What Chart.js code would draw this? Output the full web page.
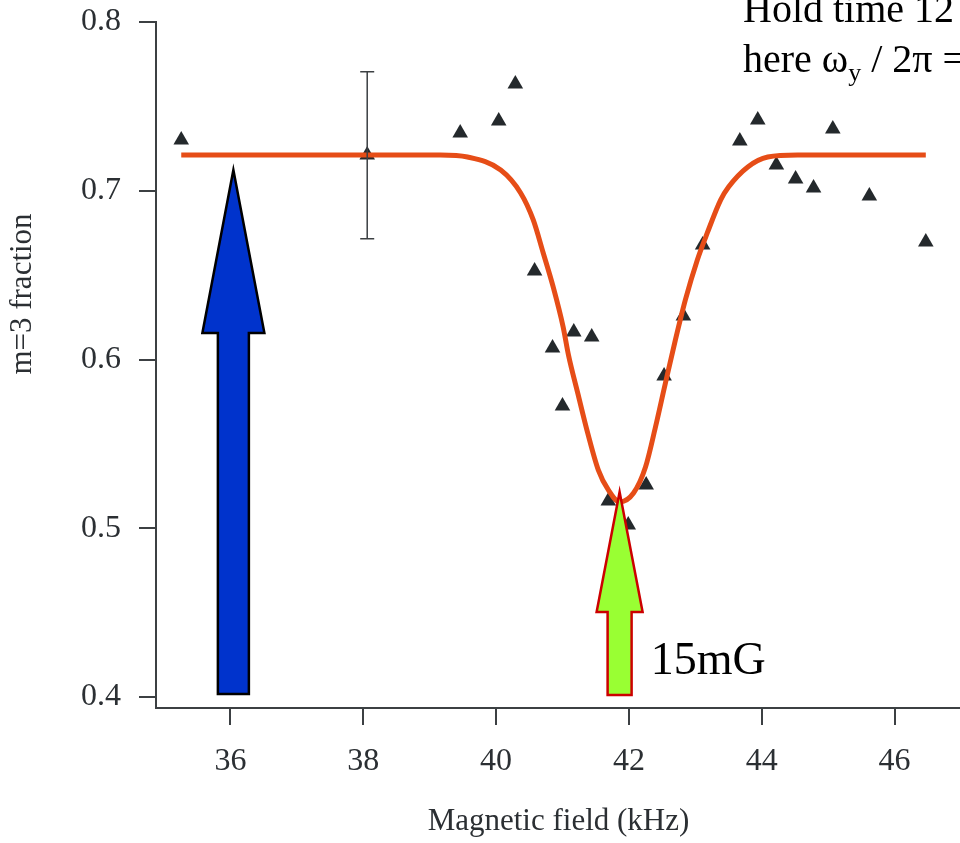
<!DOCTYPE html>
<html lang="en">
  <head>
    <meta charset="UTF-8" />
    <title>m=3 fraction vs magnetic field</title>
    <script src="https://cdn.jsdelivr.net/npm/chart.js"></script>
    <style>
      html, body { margin: 0; padding: 0; background: #fff; overflow: hidden; }
      /* the original figure is cropped on the right, so the canvas runs a bit past the window */
      #fieldChart { display: block; }
    </style>
  </head>
  <body>
    <canvas id="fieldChart" width="970" height="843"></canvas>

    <script>
      // measured points (triangles)
      const fieldKHz = [35.26, 38.06, 39.46, 40.04, 40.29, 40.58, 40.85, 41.0, 41.17, 41.44, 41.69, 41.99,
        42.26, 42.53, 42.82, 43.11, 43.67, 43.94, 44.22, 44.51, 44.78, 45.07, 45.62, 46.47];
      const m3Fraction = [0.7301, 0.7212, 0.7342, 0.7413, 0.7633, 0.6524, 0.6068, 0.5724, 0.6163, 0.6133, 0.5161, 0.5019,
        0.5256, 0.5902, 0.6258, 0.6679, 0.7295, 0.7419, 0.7153, 0.707, 0.7016, 0.7366, 0.6969, 0.6696];

      // one representative error bar
      const errorBarField = [38.06];
      const errorBarLow = [0.6715];
      const errorBarHigh = [0.7705];

      // fitted curve
      const fitField = [35.26, 39.16, 39.57, 40.07, 40.37, 40.56, 40.71, 40.86, 41.01, 41.09, 41.23, 41.38, 41.54,
        41.69, 41.86, 42.07, 42.25, 42.4, 42.55, 42.7, 42.85, 43.03, 43.18, 43.38, 43.5, 43.79, 44.09, 44.54, 46.47];
      const fitFraction = [0.7212, 0.7212, 0.72, 0.7123, 0.6987, 0.6827, 0.6631, 0.643, 0.6193, 0.6027, 0.5801, 0.5564, 0.5345,
        0.5227, 0.5156, 0.5209, 0.5363, 0.56, 0.5861, 0.6116, 0.6353, 0.659, 0.675, 0.6945, 0.7022, 0.7141, 0.72, 0.7212, 0.7212];

      const xTicks = [36, 38, 40, 42, 44, 46];
      const yTicks = [0.4, 0.5, 0.6, 0.7, 0.8];

      const axisColor = "#3c4043";
      const textColor = "#2b2f33";
      const serif = "'Liberation Serif', 'Times New Roman', serif";

      const arrows = [
        { x: 36.045, tip: 0.7123, head: 0.6157, base: 0.4018, headHalf: 31, shaftHalf: 15.5, fill: "#0033cc", stroke: "#000000" },
        { x: 41.86, tip: 0.5215, head: 0.4504, base: 0.4012, headHalf: 23, shaftHalf: 12, fill: "#99ff33", stroke: "#cc0000" },
      ];

      const extrasPlugin = {
        id: "extras",
        afterDatasetsDraw(chart) {
          const ctx = chart.ctx;
          const xs = chart.scales.x;
          const ys = chart.scales.y;
          ctx.save();

          // error bar
          ctx.strokeStyle = axisColor;
          ctx.lineWidth = 1.5;
          errorBarField.forEach((f, i) => {
            const px = xs.getPixelForValue(f);
            const top = ys.getPixelForValue(errorBarHigh[i]);
            const bot = ys.getPixelForValue(errorBarLow[i]);
            ctx.beginPath();
            ctx.moveTo(px, top); ctx.lineTo(px, bot);
            ctx.moveTo(px - 7, top); ctx.lineTo(px + 7, top);
            ctx.moveTo(px - 7, bot); ctx.lineTo(px + 7, bot);
            ctx.stroke();
          });

          // arrows
          arrows.forEach((a) => {
            const cx = xs.getPixelForValue(a.x);
            const tip = ys.getPixelForValue(a.tip);
            const head = ys.getPixelForValue(a.head);
            const base = ys.getPixelForValue(a.base);
            ctx.beginPath();
            ctx.moveTo(cx, tip);
            ctx.lineTo(cx + a.headHalf, head);
            ctx.lineTo(cx + a.shaftHalf, head);
            ctx.lineTo(cx + a.shaftHalf, base);
            ctx.lineTo(cx - a.shaftHalf, base);
            ctx.lineTo(cx - a.shaftHalf, head);
            ctx.lineTo(cx - a.headHalf, head);
            ctx.closePath();
            ctx.fillStyle = a.fill;
            ctx.fill();
            ctx.strokeStyle = a.stroke;
            ctx.lineWidth = 2.5;
            ctx.stroke();
          });

          // y axis title (sits above the middle of the axis in the original)
          ctx.fillStyle = textColor;
          ctx.font = "31px " + serif;
          ctx.textAlign = "center";
          ctx.textBaseline = "middle";
          ctx.save();
          ctx.translate(23, 294);
          ctx.rotate(-Math.PI / 2);
          ctx.fillText("m=3 fraction", 0, 0);
          ctx.restore();

          // annotations
          ctx.fillStyle = "#000";
          ctx.textBaseline = "alphabetic";
          ctx.textAlign = "left";
          ctx.font = "46px " + serif;
          ctx.fillText("15mG", xs.getPixelForValue(42.33), ys.getPixelForValue(0.4136));

          ctx.font = "40px " + serif;
          const tx = 743;
          ctx.fillText("Hold time 12", tx, 22);
          const w = ctx.measureText("here \u03c9").width;
          ctx.fillText("here \u03c9", tx, 72);
          ctx.font = "26px " + serif;
          ctx.fillText("y", tx + w, 81);
          const wy = ctx.measureText("y").width;
          ctx.font = "40px " + serif;
          ctx.fillText(" / 2\u03c0 =", tx + w + wy, 72);
          ctx.restore();
        },
      };

      const ctx = document.getElementById("fieldChart").getContext("2d");
      new Chart(ctx, {
        type: "scatter",
        data: {
          datasets: [
            {
              label: "Fit",
              data: fitField.map((f, i) => ({ x: f, y: fitFraction[i] })),
              showLine: true,
              borderColor: "#e64d17",
              borderWidth: 5,
              pointRadius: 0,
              cubicInterpolationMode: "monotone",
            },
            {
              label: "m=3 fraction",
              data: fieldKHz.map((f, i) => ({ x: f, y: m3Fraction[i] })),
              pointStyle: "triangle",
              pointRadius: 9,
              backgroundColor: "#24292c",
              borderColor: "#24292c",
              borderWidth: 0,
            },
          ],
        },
        options: {
          responsive: false,
          animation: false,
          layout: { padding: { top: 22, right: 0, left: 0, bottom: 0 } },
          plugins: { legend: { display: false }, tooltip: { enabled: false } },
          scales: {
            x: {
              type: "linear",
              min: 34.88,
              max: 47,
              afterBuildTicks: (s) => { s.ticks = xTicks.map((v) => ({ value: v })); },
              afterFit: (s) => { s.height = 135; s.paddingLeft = 0; s.paddingRight = 0; },
              border: { color: axisColor, width: 2 },
              grid: { drawOnChartArea: false, color: axisColor, lineWidth: 2, tickLength: 17 },
              ticks: { color: textColor, padding: 17, font: { family: serif, size: 32 } },
              title: {
                display: true,
                text: "Magnetic field (kHz)",
                color: textColor,
                font: { family: serif, size: 31, lineHeight: 1 },
                padding: { top: 0, bottom: 6 },
              },
            },
            y: {
              min: 0.3935,
              max: 0.8,
              afterBuildTicks: (s) => { s.ticks = yTicks.map((v) => ({ value: v })); },
              afterFit: (s) => { s.width = 156; s.paddingTop = 0; s.paddingBottom = 0; },
              border: { color: axisColor, width: 2 },
              grid: { drawOnChartArea: false, color: axisColor, lineWidth: 2, tickLength: 17 },
              ticks: { color: textColor, padding: 18, font: { family: serif, size: 32 } },
            },
          },
        },
        plugins: [extrasPlugin],
      });
    </script>
  </body>
</html>
